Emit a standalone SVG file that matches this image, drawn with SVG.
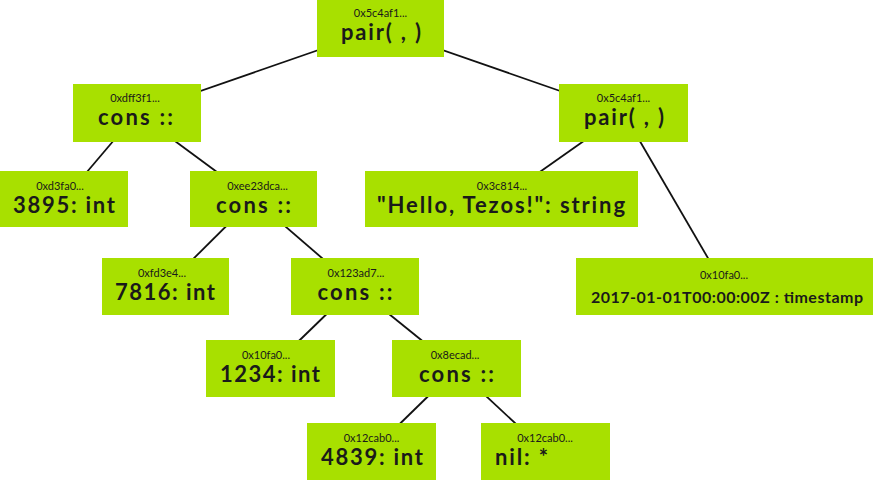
<svg xmlns="http://www.w3.org/2000/svg" width="874" height="480" viewBox="0 0 874 480">
<style>
.box{fill:#a8e000}
.hex{font-family:Lato,"Liberation Sans",sans-serif;font-size:11px;fill:#1a1a1a;text-anchor:middle}
.lbl{font-family:Lato,"Liberation Sans",sans-serif;font-size:22px;font-weight:700;fill:#1a1a1a;text-anchor:middle}
.lbls{font-family:Lato,"Liberation Sans",sans-serif;font-size:16px;font-weight:700;fill:#1a1a1a;text-anchor:middle}
.edge{stroke:#111;stroke-width:1.8;fill:none}
</style>
<rect width="874" height="480" fill="#fff"/>
<g id="connectors">
<line class="edge" x1="380.5" y1="28.5" x2="137" y2="113"/>
<line class="edge" x1="380.5" y1="28.5" x2="623.5" y2="113"/>
<line class="edge" x1="137" y1="113" x2="64" y2="199"/>
<line class="edge" x1="137" y1="113" x2="253.5" y2="199"/>
<line class="edge" x1="253.5" y1="199" x2="165.5" y2="286.5"/>
<line class="edge" x1="253.5" y1="199" x2="355" y2="286.5"/>
<line class="edge" x1="355" y1="286.5" x2="270.5" y2="368.5"/>
<line class="edge" x1="355" y1="286.5" x2="456.5" y2="368.5"/>
<line class="edge" x1="456.5" y1="368.5" x2="371.5" y2="451.5"/>
<line class="edge" x1="456.5" y1="368.5" x2="545.5" y2="451.5"/>
<line class="edge" x1="623.5" y1="113" x2="501.5" y2="199"/>
<line class="edge" x1="623.5" y1="113" x2="724.5" y2="286.5"/>
</g>
<g id="root"><rect class="box" x="317" y="0" width="127" height="57"/><text class="hex" x="380.5" y="17">0x5c4af1...</text><text class="lbl" x="381" y="40" textLength="80" lengthAdjust="spacing">pair( , )</text></g>
<g id="consL"><rect class="box" x="73" y="84" width="128" height="58"/><text class="hex" x="135" y="102">0xdff3f1...</text><text class="lbl" x="135.5" y="125" textLength="75" lengthAdjust="spacing">cons ::</text></g>
<g id="pairR"><rect class="box" x="559" y="84" width="129" height="58"/><text class="hex" x="623.5" y="102">0x5c4af1...</text><text class="lbl" x="624" y="125" textLength="80" lengthAdjust="spacing">pair( , )</text></g>
<g id="n3895"><rect class="box" x="0" y="171" width="128" height="56"/><text class="hex" x="60" y="190">0xd3fa0...</text><text class="lbl" x="64" y="213" textLength="102" lengthAdjust="spacing">3895: int</text></g>
<g id="consA"><rect class="box" x="190" y="171" width="127" height="56"/><text class="hex" x="257.5" y="190">0xee23dca...</text><text class="lbl" x="253.5" y="213" textLength="75" lengthAdjust="spacing">cons ::</text></g>
<g id="str"><rect class="box" x="365" y="171" width="273" height="56"/><text class="hex" x="502" y="190">0x3c814...</text><text class="lbl" x="501" y="213" textLength="248" lengthAdjust="spacing">"Hello, Tezos!": string</text></g>
<g id="n7816"><rect class="box" x="102" y="258" width="127" height="57"/><text class="hex" x="162" y="277">0xfd3e4...</text><text class="lbl" x="165" y="300" textLength="100" lengthAdjust="spacing">7816: int</text></g>
<g id="consB"><rect class="box" x="291" y="258" width="128" height="57"/><text class="hex" x="356" y="277">0x123ad7...</text><text class="lbl" x="355" y="300" textLength="75" lengthAdjust="spacing">cons ::</text></g>
<g id="ts"><rect class="box" x="576" y="258" width="297" height="57"/><text class="hex" x="724" y="279">0x10fa0...</text><text class="lbls" x="727" y="303" textLength="272" lengthAdjust="spacing">2017-01-01T00:00:00Z : timestamp</text></g>
<g id="n1234"><rect class="box" x="206" y="340" width="129" height="57"/><text class="hex" x="266" y="359">0x10fa0...</text><text class="lbl" x="270" y="382" textLength="100" lengthAdjust="spacing">1234: int</text></g>
<g id="consC"><rect class="box" x="392" y="340" width="129" height="57"/><text class="hex" x="455" y="359">0x8ecad...</text><text class="lbl" x="456.5" y="382" textLength="75" lengthAdjust="spacing">cons ::</text></g>
<g id="n4839"><rect class="box" x="307" y="423" width="129" height="57"/><text class="hex" x="371.5" y="442">0x12cab0...</text><text class="lbl" x="372" y="465" textLength="102" lengthAdjust="spacing">4839: int</text></g>
<g id="nil"><rect class="box" x="481" y="423" width="129" height="57"/><text class="hex" x="545" y="442">0x12cab0...</text><text class="lbl" x="495" y="465" style="text-anchor:start" textLength="53" lengthAdjust="spacing">nil: *</text></g>
</svg>
